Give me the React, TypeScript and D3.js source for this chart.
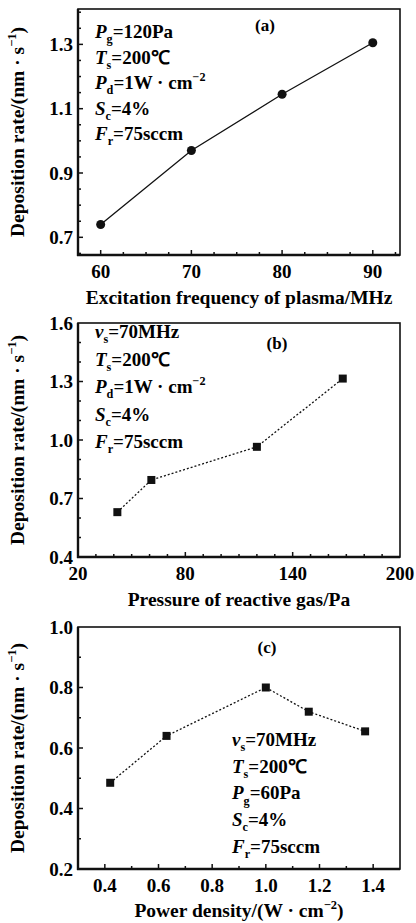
import * as d3 from "d3";

// (a) excitation frequency
const freqMHz = [60, 70, 80, 90];
const rateA = [0.74, 0.97, 1.145, 1.305];
// (b) reactive gas pressure
const pressurePa = [42, 61, 120, 168];
const rateB = [0.63, 0.795, 0.965, 1.315];
// (c) power density
const powerDensity = [0.42, 0.63, 1.0, 1.16, 1.37];
const rateC = [0.485, 0.64, 0.8, 0.72, 0.655];

const xTicksA = [60, 70, 80, 90];
const yTicksA = [0.7, 0.9, 1.1, 1.3];
const xTicksB = [20, 80, 140, 200];
const yTicksB = [0.4, 0.7, 1.0, 1.3, 1.6];
const xTicksC = [0.4, 0.6, 0.8, 1.0, 1.2, 1.4];
const yTicksC = [0.2, 0.4, 0.6, 0.8, 1.0];

const notesA = [
  [["i", "P"], ["sub", "g"], ["n", "=120Pa"]],
  [["i", "T"], ["sub", "s"], ["n", "=200℃"]],
  [["i", "P"], ["sub", "d"], ["n", "=1W · cm"], ["sup", "−2"]],
  [["i", "S"], ["sub", "c"], ["n", "=4%"]],
  [["i", "F"], ["sub", "r"], ["n", "=75sccm"]],
];
const notesB = [
  [["i", "ν"], ["sub", "s"], ["n", "=70MHz"]],
  [["i", "T"], ["sub", "s"], ["n", "=200℃"]],
  [["i", "P"], ["sub", "d"], ["n", "=1W · cm"], ["sup", "−2"]],
  [["i", "S"], ["sub", "c"], ["n", "=4%"]],
  [["i", "F"], ["sub", "r"], ["n", "=75sccm"]],
];
const notesC = [
  [["i", "ν"], ["sub", "s"], ["n", "=70MHz"]],
  [["i", "T"], ["sub", "s"], ["n", "=200℃"]],
  [["i", "P"], ["sub", "g"], ["n", "=60Pa"]],
  [["i", "S"], ["sub", "c"], ["n", "=4%"]],
  [["i", "F"], ["sub", "r"], ["n", "=75sccm"]],
];

const yTitle = [["n", "Deposition rate/(nm · s"], ["sup", "−1"], ["n", ")"]];

const FONT = "'Liberation Serif', 'Times New Roman', serif";

// @ts-expect-error
function Rich({ segs, x, y, size, anchor = "start", transform = undefined }) {
  let shift = 0;
  return (
    <text
      x={x}
      y={y}
      fontSize={size}
      fontFamily={FONT}
      fontWeight="bold"
      textAnchor={anchor}
      transform={transform}
    >
      {/* @ts-expect-error */}
      {segs.map(([kind, str], i) => {
        const target = kind === "sub" ? size * 0.28 : kind === "sup" ? -size * 0.4 : 0;
        const dy = target - shift;
        shift = target;
        const small = kind === "sub" || kind === "sup";
        return (
          <tspan
            key={i}
            dy={dy}
            fontSize={small ? size * 0.64 : size}
            fontStyle={kind === "i" ? "italic" : "normal"}
          >
            {str}
          </tspan>
        );
      })}
    </text>
  );
}

// @ts-expect-error
function Panel({ box, xDomain, yDomain, xs, ys, xTicks, yTicks, xMinor, yMinor, xFmt, marker, dashed, xTitle, notes, noteX, noteY, noteGap, tag, tagX, tagY }) {
  const { left, top, right, bottom } = box;
  const x = d3.scaleLinear().domain(xDomain).range([left, right]);
  const y = d3.scaleLinear().domain(yDomain).range([bottom, top]);
  const minorX = d3.range(xDomain[0], xDomain[1] + 1e-9, xMinor).filter((v) => v > xDomain[0] + 1e-9 && v < xDomain[1] - 1e-9);
  // @ts-expect-error
  const startY = Math.ceil((yDomain[0] - 1e-9) / yMinor) * yMinor;
  const minorY = d3.range(startY, yDomain[1] + 1e-9, yMinor).filter((v) => v > yDomain[0] + 1e-9 && v < yDomain[1] - 1e-9);
  // @ts-expect-error
  const pts = xs.map((d, i) => [x(d), y(ys[i])]);
  // @ts-expect-error
  const line = d3.line()(pts);
  const isMajor = (arr: number[], v: number) => arr.some((t) => Math.abs(t - v) < 1e-6);

  return (
    <g>
      <rect x={left} y={top} width={right - left} height={bottom - top} fill="none" stroke="#111" strokeWidth={1.6} />
      <line x1={left} y1={top} x2={left} y2={bottom + 1} stroke="#111" strokeWidth={2.4} />
      <line x1={left - 1} y1={bottom} x2={right} y2={bottom} stroke="#111" strokeWidth={2.4} />
      {minorX.map((v, i) => (
        <line key={"mx" + i} x1={x(v)} x2={x(v)} y1={bottom} y2={bottom - (isMajor(xTicks, v) ? 5 : 3)} stroke="#111" strokeWidth={1.5} />
      ))}
      {minorY.map((v, i) => (
        <line key={"my" + i} x1={left} x2={left + (isMajor(yTicks, v) ? 5 : 3)} y1={y(v)} y2={y(v)} stroke="#111" strokeWidth={1.5} />
      ))}
      {/* @ts-expect-error */}
      {xTicks.map((v, i) => (
        <text key={"xt" + i} x={x(v)} y={bottom + 23} fontSize={19} fontFamily={FONT} fontWeight="bold" textAnchor="middle">
          {xFmt(v)}
        </text>
      ))}
      {/* @ts-expect-error */}
      {yTicks.map((v, i) => (
        <text key={"yt" + i} x={left - 5} y={y(v) + 6.5} fontSize={19} fontFamily={FONT} fontWeight="bold" textAnchor="end">
          {v.toFixed(1)}
        </text>
      ))}
      <path d={line} fill="none" stroke="#111" strokeWidth={1.3} strokeDasharray={dashed ? "2,2" : undefined} />
      {pts.map(([px, py], i) =>
        marker === "circle" ? (
          <circle key={"p" + i} cx={px} cy={py} r={4.5} fill="#111" />
        ) : (
          <rect key={"p" + i} x={px - 4} y={py - 4} width={8} height={8} fill="#111" />
        )
      )}
      {/* @ts-expect-error */}
      {notes.map((segs, i) => (
        <Rich key={"n" + i} segs={segs} x={noteX} y={noteY + i * noteGap} size={19} />
      ))}
      <text x={tagX} y={tagY} fontSize={17} fontFamily={FONT} fontWeight="bold" textAnchor="middle">
        {tag}
      </text>
      <text x={(left + right) / 2} y={bottom + 49} fontSize={19.5} fontFamily={FONT} fontWeight="bold" textAnchor="middle">
        {xTitle}
      </text>
      <Rich
        segs={yTitle}
        x={0}
        y={0}
        size={19.5}
        anchor="middle"
        transform={`translate(${left - 54},${(top + bottom) / 2}) rotate(-90)`}
      />
    </g>
  );
}

export default function App() {
  const intFmt = (v: number) => String(v);
  const decFmt = (v: number) => v.toFixed(1);
  return (
    <svg
      width={416}
      height={923}
      viewBox="0 0 416 923"
      style={{ position: "absolute", left: 0, top: 0, background: "white" }}
    >
      <rect width={416} height={923} fill="white" />
      <Panel
        box={{ left: 78, top: 9, right: 400, bottom: 255 }}
        xDomain={[57.5, 93]}
        yDomain={[0.645, 1.41]}
        xs={freqMHz}
        ys={rateA}
        xTicks={xTicksA}
        yTicks={yTicksA}
        xMinor={2.5}
        yMinor={0.05}
        xFmt={intFmt}
        marker="circle"
        dashed={false}
        xTitle="Excitation frequency of plasma/MHz"
        notes={notesA}
        noteX={95}
        noteY={38}
        noteGap={25.5}
        tag="(a)"
        tagX={265}
        tagY={31}
      />
      <Panel
        box={{ left: 78, top: 323, right: 400, bottom: 557 }}
        xDomain={[20, 200]}
        yDomain={[0.4, 1.6]}
        xs={pressurePa}
        ys={rateB}
        xTicks={xTicksB}
        yTicks={yTicksB}
        xMinor={10}
        yMinor={0.1}
        xFmt={intFmt}
        marker="square"
        dashed={true}
        xTitle="Pressure of reactive gas/Pa"
        notes={notesB}
        noteX={95}
        noteY={338}
        noteGap={27.5}
        tag="(b)"
        tagX={277}
        tagY={349}
      />
      <Panel
        box={{ left: 78, top: 627, right: 400, bottom: 869 }}
        xDomain={[0.3, 1.5]}
        yDomain={[0.2, 1.0]}
        xs={powerDensity}
        ys={rateC}
        xTicks={xTicksC}
        yTicks={yTicksC}
        xMinor={0.1}
        yMinor={0.1}
        xFmt={decFmt}
        marker="square"
        dashed={true}
        xTitle=""
        notes={notesC}
        noteX={232}
        noteY={746}
        noteGap={26.7}
        tag="(c)"
        tagX={267}
        tagY={653}
      />
      <Rich
        segs={[["n", "Power density/(W · cm"], ["sup", "−2"], ["n", ")"]]}
        x={239}
        y={917}
        size={19.5}
        anchor="middle"
      />
    </svg>
  );
}
